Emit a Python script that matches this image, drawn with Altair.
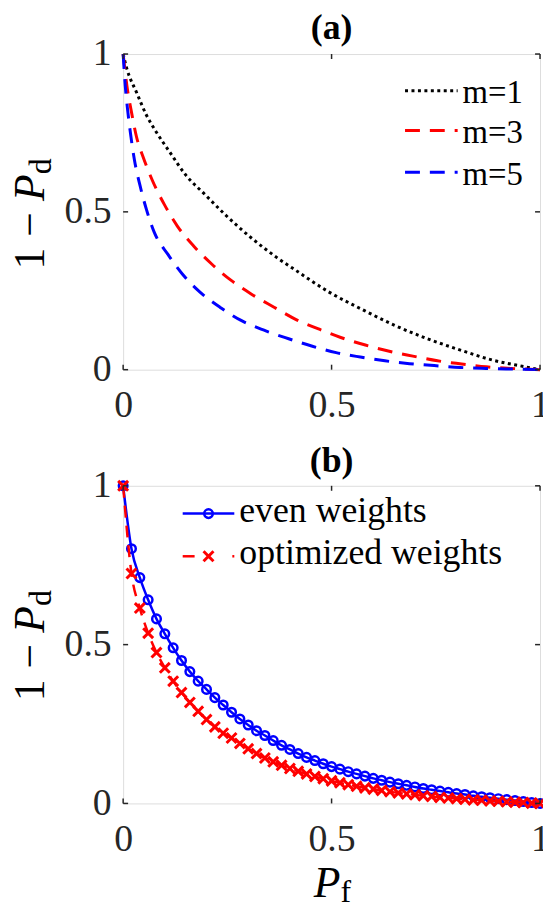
import altair as alt
import pandas as pd

# ---------------- data ----------------
tick_vals = [0, 0.5, 1]

# panel (a)
pf_m1 = [0, 0.009, 0.032, 0.056, 0.079, 0.111, 0.150, 0.197, 0.244, 0.307, 0.369,
         0.416, 0.495, 0.573, 0.652, 0.730, 0.809, 0.887, 0.965, 1.0]
v_m1 = [1, 0.953, 0.879, 0.806, 0.754, 0.691, 0.617, 0.554, 0.492, 0.418, 0.355,
        0.313, 0.245, 0.191, 0.14, 0.098, 0.062, 0.030, 0.009, 0]

pf_m3 = [0, 0.009, 0.020, 0.032, 0.049, 0.071, 0.099, 0.130, 0.169, 0.213, 0.260,
         0.307, 0.362, 0.416, 0.467, 0.522, 0.581, 0.636, 0.695, 0.754, 0.812,
         0.871, 0.930, 1.0]
v_m3 = [1, 0.90, 0.816, 0.738, 0.67, 0.597, 0.523, 0.455, 0.392, 0.334, 0.282,
        0.24, 0.198, 0.158, 0.13, 0.102, 0.078, 0.059, 0.043, 0.028, 0.018,
        0.009, 0.004, 0]

pf_m5 = [0, 0.005, 0.011, 0.018, 0.027, 0.040, 0.056, 0.075, 0.107, 0.142, 0.185,
         0.232, 0.283, 0.338, 0.397, 0.452, 0.511, 0.569, 0.628, 0.687, 0.746,
         0.809, 0.87, 0.93, 1.0]
v_m5 = [1, 0.90, 0.82, 0.745, 0.665, 0.586, 0.507, 0.434, 0.366, 0.303, 0.245,
        0.198, 0.156, 0.125, 0.098, 0.075, 0.054, 0.040, 0.028, 0.019, 0.013,
        0.007, 0.004, 0.002, 0]

legend_a = ["m=1", "m=3", "m=5"]

# panel (b)
pf_b = [0.00, 0.02, 0.04, 0.06, 0.08, 0.10, 0.12, 0.14, 0.16, 0.18,
        0.20, 0.22, 0.24, 0.26, 0.28, 0.30, 0.32, 0.34, 0.36, 0.38,
        0.40, 0.42, 0.44, 0.46, 0.48, 0.50, 0.52, 0.54, 0.56, 0.58,
        0.60, 0.62, 0.64, 0.66, 0.68, 0.70, 0.72, 0.74, 0.76, 0.78,
        0.80, 0.82, 0.84, 0.86, 0.88, 0.90, 0.92, 0.94, 0.96, 0.98, 1.00]
v_even = [1.000, 0.802, 0.711, 0.641, 0.581, 0.534, 0.490, 0.450, 0.415, 0.385,
          0.359, 0.333, 0.310, 0.287, 0.266, 0.247, 0.229, 0.214, 0.198, 0.183,
          0.170, 0.157, 0.145, 0.135, 0.125, 0.116, 0.108, 0.100, 0.093, 0.086,
          0.079, 0.073, 0.067, 0.062, 0.057, 0.052, 0.047, 0.043, 0.039, 0.035,
          0.031, 0.028, 0.024, 0.021, 0.018, 0.015, 0.012, 0.009, 0.006, 0.003, 0.000]
v_opt = [1.000, 0.724, 0.615, 0.536, 0.475, 0.427, 0.385, 0.349, 0.318, 0.290,
         0.264, 0.241, 0.221, 0.206, 0.189, 0.172, 0.157, 0.143, 0.131, 0.120,
         0.110, 0.101, 0.093, 0.085, 0.078, 0.071, 0.065, 0.059, 0.054, 0.049,
         0.045, 0.041, 0.037, 0.033, 0.030, 0.027, 0.024, 0.022, 0.019, 0.017,
         0.015, 0.013, 0.011, 0.010, 0.008, 0.007, 0.005, 0.004, 0.003, 0.001, 0.000]
legend_b = ["even weights", "optimized weights"]

# ---------------- styling ----------------
FONT = "Liberation Serif"
AX = "#262626"
RED = "#FF0000"
BLUE = "#0000FF"
W = 420
H_A = 318
H_B = 320
TICK_FS = 38
LAB_FS = 44
SUB_FS = 32
CIRC = 75
XSZ = 100

xs = alt.Scale(domain=[0, 1], nice=False, zero=False)
ys = alt.Scale(domain=[0, 1], nice=False, zero=False)

XAX = alt.Axis(values=tick_vals, format="~g", labelFont=FONT, labelFontSize=TICK_FS,
               labelColor=AX, labelPadding=17, labelFlush=False, labelOverlap=False,
               domain=False, ticks=False, grid=False, title=None,
               labelBaseline="top")
YAX = alt.Axis(values=tick_vals, format="~g", labelFont=FONT, labelFontSize=TICK_FS,
               labelColor=AX, labelPadding=12, labelOverlap=False, labelFlush=False,
               domain=False, ticks=False, grid=False, title=None)

one = pd.DataFrame({"k": [0]})
ticks_df = pd.DataFrame({"t": tick_vals})


def txt(text, x, y, size, angle=0, style="normal", weight="normal", align="left",
        color="black"):
    kw = dict(text=text, font=FONT, fontSize=size, fontStyle=style, fontWeight=weight,
              align=align, baseline="alphabetic", color=color)
    if angle:
        kw["angle"] = angle
    return alt.Chart(one).mark_text(**kw).encode(x=alt.value(x), y=alt.value(y))


def seg(x1, x2, y, color, width, dash=None):
    kw = dict(color=color, strokeWidth=width)
    if dash:
        kw["strokeDash"] = dash
    return alt.Chart(one).mark_rule(**kw).encode(x=alt.value(x1), x2=alt.value(x2),
                                                 y=alt.value(y))


def tick_layers(H):
    t = alt.Chart(ticks_df)
    sty = dict(color=AX, strokeWidth=1.5)
    return [
        t.mark_rule(**sty).encode(x=alt.X("t:Q", scale=xs, axis=XAX),
                                  y=alt.value(H), y2=alt.value(H - 5)),
        t.mark_rule(**sty).encode(x=alt.X("t:Q", scale=xs, axis=XAX),
                                  y=alt.value(0), y2=alt.value(5)),
        t.mark_rule(**sty).encode(y=alt.Y("t:Q", scale=ys, axis=YAX),
                                  x=alt.value(0), x2=alt.value(5)),
        t.mark_rule(**sty).encode(y=alt.Y("t:Q", scale=ys, axis=YAX),
                                  x=alt.value(W), x2=alt.value(W - 5)),
    ]


def ylabel():
    return [
        txt("1 \u2212 ", -80, 217, LAB_FS, angle=270),
        txt("P", -80, 148, LAB_FS, angle=270, style="italic"),
        txt("d", -73, 121, SUB_FS, angle=270),
    ]


def curve(pf, v, color, width, dash=None):
    kw = dict(color=color, strokeWidth=width, interpolate="monotone")
    if dash:
        kw["strokeDash"] = dash
    df = pd.DataFrame({"pf": pf, "v": v})
    return alt.Chart(df).mark_line(**kw).encode(
        x=alt.X("pf:Q", scale=xs, axis=XAX),
        y=alt.Y("v:Q", scale=ys, axis=YAX),
    )


# ---------------- panel (a) ----------------
a_layers = [
    curve(pf_m1, v_m1, "black", 3, [3, 3.5]),
    curve(pf_m3, v_m3, RED, 3, [15, 10]),
    curve(pf_m5, v_m5, BLUE, 3, [15, 10]),
] + tick_layers(H_A) + ylabel() + [
    txt("(a)", W / 2, -15, 36, weight="bold", align="center"),
    seg(284, 337, 37, "black", 3, [3, 3.5]),
    seg(284, 337, 77, RED, 3, [15, 10]),
    seg(284, 337, 119, BLUE, 3, [15, 10]),
    txt(legend_a[0], 342, 49, 33),
    txt(legend_a[1], 342, 90, 33),
    txt(legend_a[2], 342, 132, 33),
]
panel_a = alt.layer(*a_layers).properties(width=W, height=H_A)

# ---------------- panel (b) ----------------
df_even = pd.DataFrame({"pf": pf_b, "v": v_even})
df_opt = pd.DataFrame({"pf": pf_b, "v": v_opt})
XSHAPE = "M-1,-1L1,1M-1,1L1,-1"

even_line = curve(pf_b, v_even, BLUE, 2.5)
even_pts = alt.Chart(df_even).mark_point(shape="circle", filled=False, size=CIRC,
                                         strokeWidth=2.5, color=BLUE, opacity=1).encode(
    x=alt.X("pf:Q", scale=xs, axis=XAX), y=alt.Y("v:Q", scale=ys, axis=YAX))
opt_line = curve(pf_b, v_opt, RED, 2.5, [12, 8])
opt_pts = alt.Chart(df_opt).mark_point(shape=XSHAPE, filled=False, size=XSZ,
                                       strokeWidth=3, color=RED, opacity=1).encode(
    x=alt.X("pf:Q", scale=xs, axis=XAX), y=alt.Y("v:Q", scale=ys, axis=YAX))

b_layers = [even_line, even_pts, opt_line, opt_pts] + tick_layers(H_B) + ylabel() + [
    txt("(b)", W / 2, -14, 36, weight="bold", align="center"),
    txt("P", 192, 414, LAB_FS, style="italic"),
    txt("f", 219, 419, SUB_FS),
    seg(60, 112, 28, BLUE, 2.5),
    alt.Chart(one).mark_point(shape="circle", filled=False, size=CIRC, strokeWidth=2.5,
                              color=BLUE, opacity=1).encode(x=alt.value(86), y=alt.value(28)),
    seg(60, 72, 71, RED, 2.5),
    seg(110, 112, 71, RED, 2.5),
    alt.Chart(one).mark_point(shape=XSHAPE, filled=False, size=XSZ, strokeWidth=3,
                              color=RED, opacity=1).encode(x=alt.value(86), y=alt.value(71)),
    txt(legend_b[0], 117, 36, 36),
    txt(legend_b[1], 117, 79, 36),
]
panel_b = alt.layer(*b_layers).properties(width=W, height=H_B)

chart = alt.vconcat(panel_a, panel_b, spacing=17).properties(
    padding={"left": 0, "top": -2, "right": -9, "bottom": 0}
).configure_view(stroke=AX, strokeWidth=1.5).configure(background="white")

chart.save("out.html", embed_options={"renderer": "svg", "actions": False})
